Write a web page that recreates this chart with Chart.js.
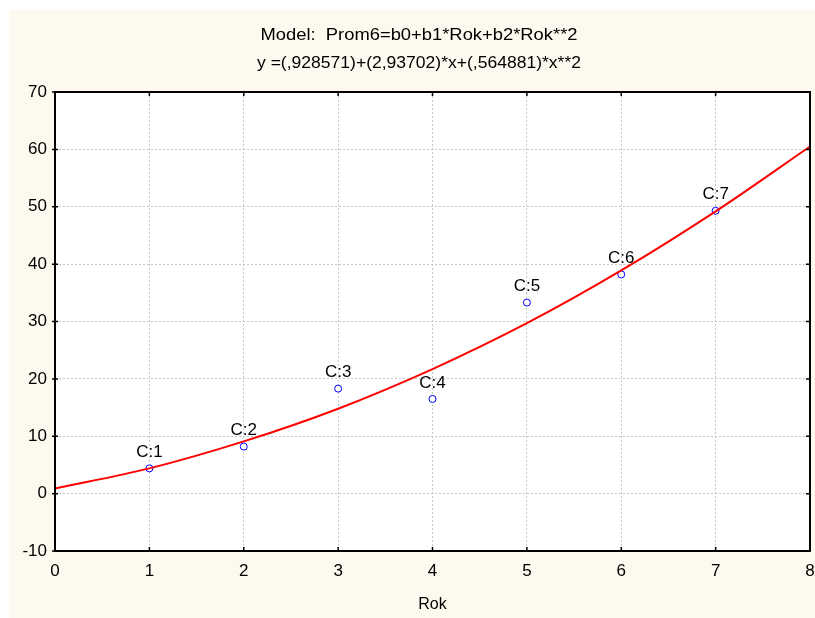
<!DOCTYPE html>
<html>
<head>
<meta charset="utf-8">
<script src="https://cdn.jsdelivr.net/npm/chart.js@4.4.1/dist/chart.umd.min.js"></script>
<style>
  html, body { margin: 0; padding: 0; background: #ffffff; overflow: hidden; }
  #wrap { width: 815px; height: 618px; position: relative; }
</style>
</head>
<body>
<div id="wrap"><canvas id="chart" width="815" height="618"></canvas></div>
<script>
const titleLines = ['Model:  Prom6=b0+b1*Rok+b2*Rok**2', 'y =(,928571)+(2,93702)*x+(,564881)*x**2'];
const pointX = [1, 2, 3, 4, 5, 6, 7];
const pointY = [4.4, 8.2, 18.3, 16.5, 33.3, 38.2, 49.3];
const pointLabels = ['C:1', 'C:2', 'C:3', 'C:4', 'C:5', 'C:6', 'C:7'];
const curveX = [0, 1, 2, 3, 4, 5, 6, 7, 8];
const curveY = [0.9, 4.4, 9.1, 14.8, 21.7, 29.7, 38.9, 49.2, 60.5];
const xTicks = [0, 1, 2, 3, 4, 5, 6, 7, 8];
const yTicks = [-10, 0, 10, 20, 30, 40, 50, 60, 70];

const FONT = '"Liberation Sans", Arial, sans-serif';

// draws text squeezed to a given width (the original title font is narrow)
function fitText(ctx, text, cx, cy, width) {
    const w = ctx.measureText(text).width;
    ctx.save();
    ctx.translate(cx, cy);
    ctx.scale(width / w, 1);
    ctx.fillText(text, 0, 0);
    ctx.restore();
}

const framePlugin = {
    id: 'frame',
    beforeDraw(chart) {
        const ctx = chart.ctx;
        const a = chart.chartArea;
        ctx.save();
        ctx.fillStyle = '#fdf9ee';
        ctx.fillRect(9, 10, chart.width - 9, chart.height - 10);
        ctx.fillStyle = '#ffffff';
        ctx.fillRect(a.left, a.top, a.right - a.left, a.bottom - a.top);
        ctx.fillStyle = '#000000';
        ctx.font = '16px ' + FONT;
        ctx.textAlign = 'center';
        ctx.textBaseline = 'middle';
        fitText(ctx, titleLines[0], 419, 36, 317);
        fitText(ctx, titleLines[1], 419, 64, 324);
        ctx.restore();
    },
    afterDatasetsDraw(chart) {
        const ctx = chart.ctx;
        const a = chart.chartArea;
        const xs = chart.scales.x, ys = chart.scales.y;
        ctx.save();
        ctx.strokeStyle = '#000000';
        ctx.lineWidth = 2;
        ctx.strokeRect(a.left, a.top, a.right - a.left, a.bottom - a.top);
        ctx.lineWidth = 1.5;
        ctx.beginPath();
        xTicks.forEach(v => {
            const px = xs.getPixelForValue(v);
            ctx.moveTo(px, a.bottom); ctx.lineTo(px, a.bottom - 4);
            ctx.moveTo(px, a.top); ctx.lineTo(px, a.top + 4);
        });
        yTicks.forEach(v => {
            const py = ys.getPixelForValue(v);
            ctx.moveTo(a.left - 3, py); ctx.lineTo(a.left + 3, py);
            ctx.moveTo(a.right, py); ctx.lineTo(a.right - 4, py);
        });
        ctx.stroke();
        ctx.fillStyle = '#000000';
        ctx.font = '17px ' + FONT;
        ctx.textAlign = 'center';
        ctx.textBaseline = 'middle';
        // x tick labels (drawn here so the last one may run off the edge like the original)
        xTicks.forEach(v => {
            ctx.fillText(String(v), xs.getPixelForValue(v), a.bottom + 20);
        });
        const meta = chart.getDatasetMeta(1);
        meta.data.forEach((el, i) => {
            ctx.fillText(pointLabels[i], el.x, el.y - 16);
        });
        ctx.restore();
    }
};

new Chart(document.getElementById('chart'), {
    type: 'scatter',
    data: {
        datasets: [{
            type: 'line',
            data: curveX.map((x, i) => ({ x: x, y: curveY[i] })),
            borderColor: '#ff0000',
            borderWidth: 2,
            pointRadius: 0,
            cubicInterpolationMode: 'monotone',
            fill: false,
            clip: 4
        }, {
            data: pointX.map((x, i) => ({ x: x, y: pointY[i] })),
            borderColor: '#0000ff',
            backgroundColor: '#ffffff',
            borderWidth: 1,
            pointRadius: 3.5
        }]
    },
    options: {
        responsive: false,
        animation: false,
        events: [],
        layout: { padding: { left: 9, right: 3, top: 92, bottom: 4 } },
        plugins: {
            legend: { display: false },
            tooltip: { enabled: false }
        },
        scales: {
            x: {
                type: 'linear',
                min: 0, max: 8,
                afterBuildTicks: s => { s.ticks = xTicks.map(v => ({ value: v })); },
                afterFit: s => { s.height = 63; },
                ticks: { display: false },
                grid: { color: '#c8c8c8', lineWidth: 1, drawTicks: false },
                border: { display: false, dash: [2, 2] },
                title: { display: true, text: 'Rok', color: '#000', font: { family: FONT, size: 16 }, padding: { top: 0, bottom: 0 } }
            },
            y: {
                type: 'linear',
                min: -10, max: 70,
                afterBuildTicks: s => { s.ticks = yTicks.map(v => ({ value: v })); },
                afterFit: s => { s.width = 46; s.paddingTop = 0; s.paddingBottom = 0; },
                ticks: { color: '#000', font: { family: FONT, size: 17 }, padding: 8 },
                grid: { color: '#c8c8c8', lineWidth: 1, drawTicks: false },
                border: { display: false, dash: [2, 2] }
            }
        }
    },
    plugins: [framePlugin]
});
</script>
</body>
</html>
